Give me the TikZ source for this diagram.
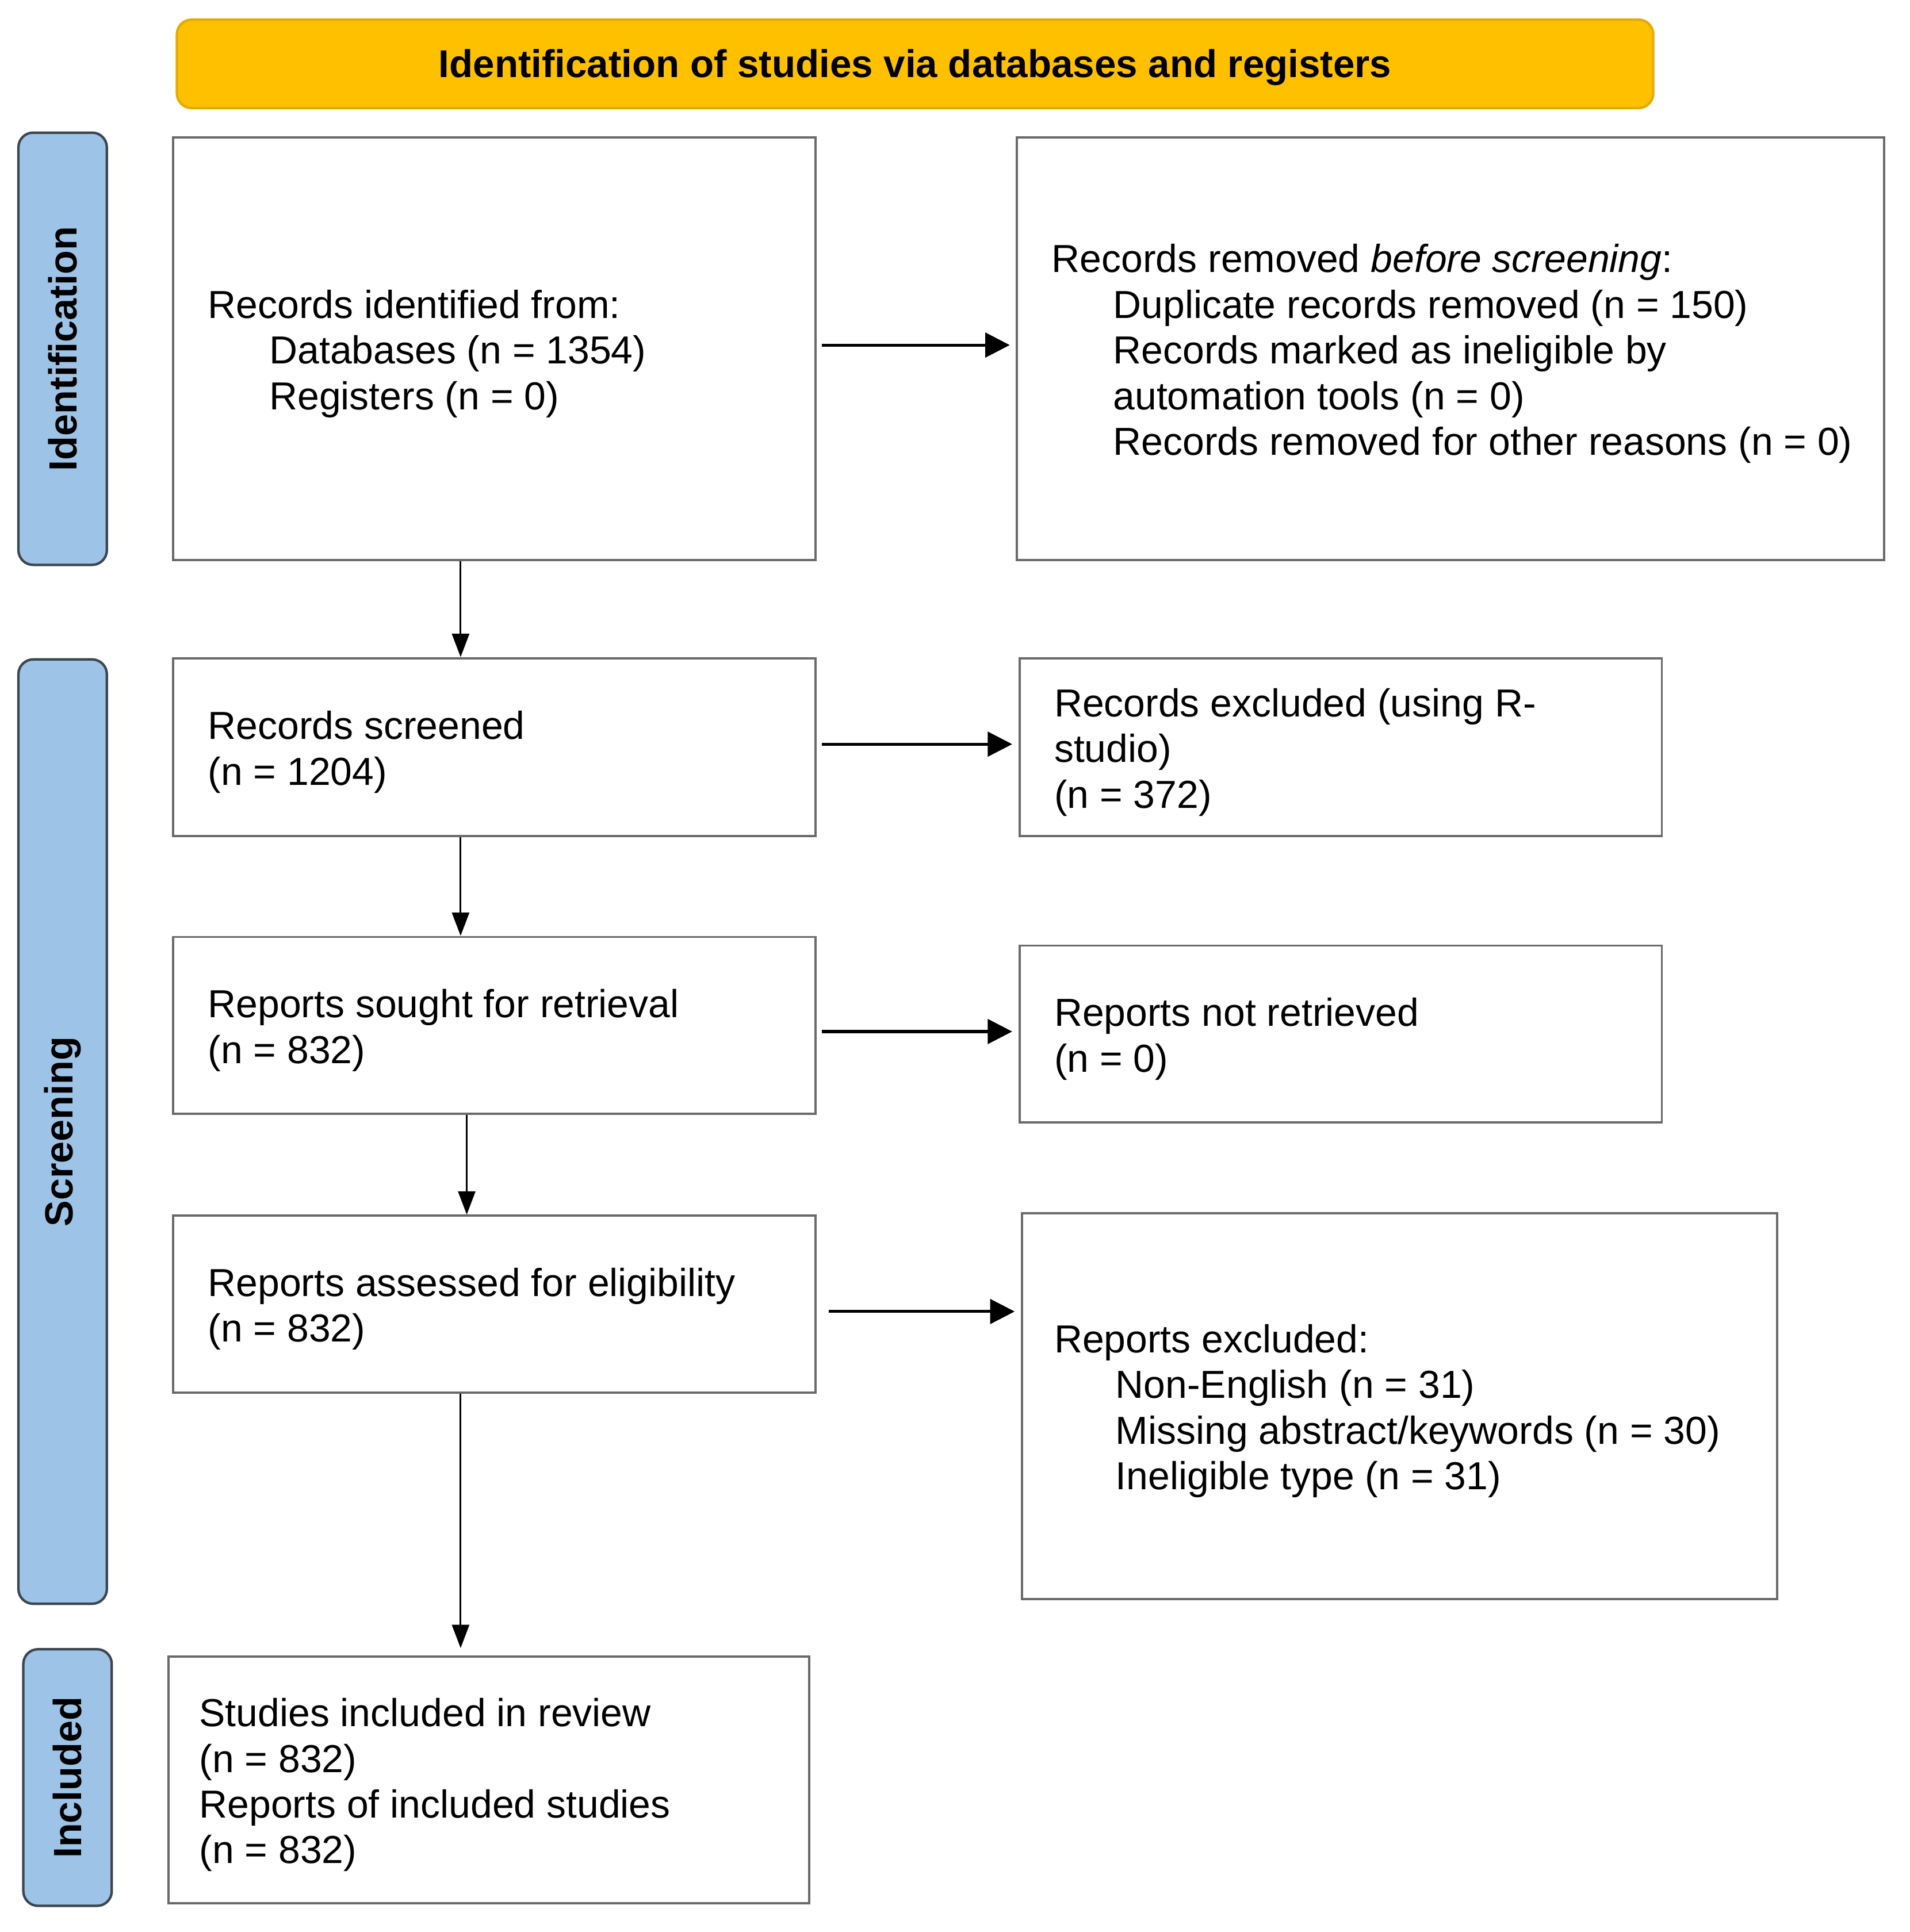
\documentclass[tikz,border=0pt]{standalone}
\usepackage{fontspec}
\setmainfont{Liberation Sans}
\usetikzlibrary{arrows.meta}
\definecolor{bannerfill}{HTML}{FFC000}
\definecolor{bannerline}{HTML}{E3AA00}
\definecolor{sidefill}{HTML}{9DC3E6}
\definecolor{sideline}{HTML}{3C4650}
\definecolor{boxline}{HTML}{6A6A6A}
\begin{document}
\begin{tikzpicture}[x=1pt,y=-1pt,
  box/.style={draw=boxline, line width=1.8pt, fill=white, inner sep=0pt},
  txt/.style={inner sep=0pt, align=left, anchor=west, font=\fontsize{31.8}{37.2}\selectfont},
  side/.style={draw=sideline, line width=2pt, fill=sidefill, rounded corners=12pt, inner sep=0pt, minimum width=72pt},
  sidetxt/.style={inner sep=0pt, rotate=90, font=\bfseries\fontsize{32}{38}\selectfont},
  harrow/.style={-{Triangle[length=20pt,width=20pt]}, line width=2.4pt, shorten <=4pt, shorten >=5pt},
  varrow/.style={-{Triangle[length=19pt,width=14pt]}, line width=1.5pt}
]
\useasboundingbox (0,0) rectangle (1555,1573.3);

% banner
\node[draw=bannerline, line width=2pt, fill=bannerfill, rounded corners=12pt,
      minimum width=1202pt, minimum height=72pt, inner sep=0pt] (banner) at (745,52) {};
\node[inner sep=0pt, font=\bfseries\fontsize{31.5}{37}\selectfont] (bannertxt) at ([yshift=-3pt]banner.center) {Identification of studies via databases and registers};

% side labels
\node[side, minimum height=352pt] (sid) at (51,284) {};
\node[sidetxt] (sidt) at (sid.center) {Identification};
\node[side, minimum height=769pt] (sscr) at (51,921.5) {};
\node[sidetxt] (sscrt) at (sscr.center) {Screening};
\node[side, minimum height=209pt] (sinc) at (55,1447.5) {};
\node[sidetxt] (sinct) at (sinc.center) {Included};

% boxes
\node[box, minimum width=523pt, minimum height=344pt] (b1) at (402.5,284) {};
\node[txt] (t1) at ([xshift=29pt,yshift=-4pt]b1.west) {Records identified from:\\
\hspace*{50pt}Databases (n = 1354)\\
\hspace*{50pt}Registers (n = 0)};

\node[box, minimum width=706pt, minimum height=344pt] (b2) at (1181,284) {};
\node[txt] (t2) at ([xshift=29pt,yshift=-4pt]b2.west) {Records removed \textit{before screening}:\\
\hspace*{50pt}Duplicate records removed (n = 150)\\
\hspace*{50pt}Records marked as ineligible by\\
\hspace*{50pt}automation tools (n = 0)\\
\hspace*{50pt}Records removed for other reasons (n = 0)};

\node[box, minimum width=523pt, minimum height=145pt] (b3) at (402.5,608.5) {};
\node[txt] (t3) at ([xshift=29pt,yshift=-4pt]b3.west) {Records screened\\(n = 1204)};

\node[box, minimum width=523pt, minimum height=145pt] (b4) at (1091.5,608.5) {};
\node[txt] (t4) at ([xshift=29pt,yshift=-4pt]b4.west) {Records excluded (using R-\\studio)\\(n = 372)};

\node[box, minimum width=523pt, minimum height=144pt] (b5) at (402.5,835) {};
\node[txt] (t5) at ([xshift=29pt,yshift=-4pt]b5.west) {Reports sought for retrieval\\(n = 832)};

\node[box, minimum width=523pt, minimum height=144pt] (b6) at (1091.5,842) {};
\node[txt] (t6) at ([xshift=29pt,yshift=-4pt]b6.west) {Reports not retrieved\\(n = 0)};

\node[box, minimum width=523pt, minimum height=144pt] (b7) at (402.5,1062) {};
\node[txt] (t7) at ([xshift=29pt,yshift=-4pt]b7.west) {Reports assessed for eligibility\\(n = 832)};

\node[box, minimum width=615pt, minimum height=314pt] (b8) at (1139.5,1145) {};
\node[txt] (t8) at ([xshift=27pt,yshift=-4pt]b8.west) {Reports excluded:\\
\hspace*{50pt}Non-English (n = 31)\\
\hspace*{50pt}Missing abstract/keywords (n = 30)\\
\hspace*{50pt}Ineligible type (n = 31)};

\node[box, minimum width=522pt, minimum height=201pt] (b9) at (398,1449.5) {};
\node[txt] (t9) at ([xshift=26pt,yshift=-4pt]b9.west) {Studies included in review\\(n = 832)\\Reports of included studies\\(n = 832)};

% horizontal arrows
\draw[harrow] ([yshift=3pt]b1.east) -- ([yshift=3pt]b1.east -| b2.west);
\draw[harrow] ([yshift=2.5pt]b3.east) -- ([yshift=2.5pt]b3.east -| b4.west);
\draw[harrow] ([yshift=-5pt]b5.east) -- ([yshift=-5pt]b5.east -| b6.west);
\draw[harrow] ([yshift=-6pt,xshift=6pt]b7.east) -- ([yshift=-6pt]b7.east -| b8.west);

% vertical arrows
\draw[varrow] ([xshift=-27.5pt]b1.south) -- ([xshift=-27.5pt]b1.south |- b3.north);
\draw[varrow] ([xshift=-27.5pt]b3.south) -- ([xshift=-27.5pt]b3.south |- b5.north);
\draw[varrow] ([xshift=-22.5pt]b5.south) -- ([xshift=-22.5pt]b5.south |- b7.north);
\draw[varrow, shorten >=6pt] ([xshift=-27.5pt]b7.south) -- ([xshift=-27.5pt]b7.south |- b9.north);
\end{tikzpicture}
\end{document}
